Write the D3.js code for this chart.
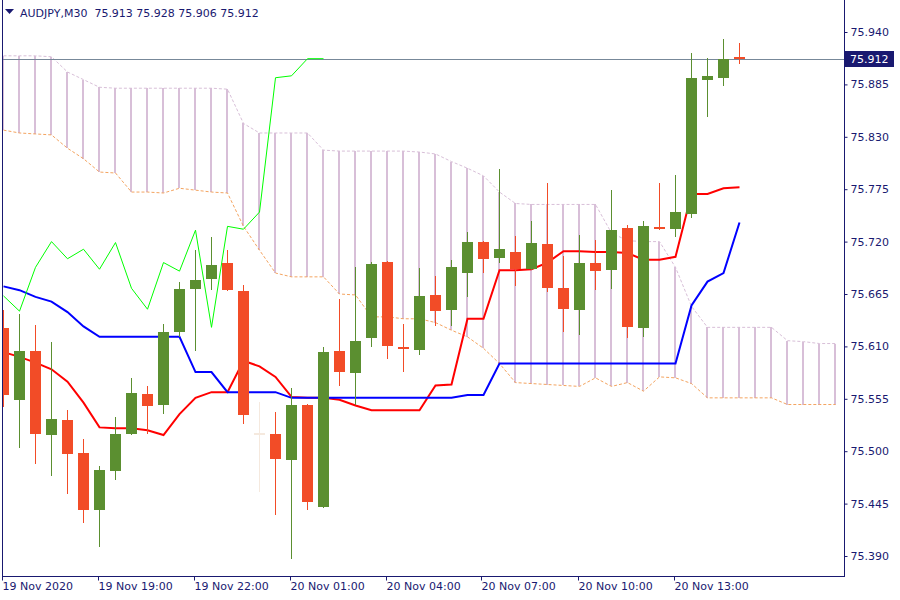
<!DOCTYPE html>
<html><head><meta charset="utf-8">
<script src="https://cdn.jsdelivr.net/npm/d3@7"></script>
<style>
html,body{margin:0;padding:0;background:#fff;}
svg{display:block;font-family:"DejaVu Sans",sans-serif;}
</style></head><body>
<svg id="chart" width="900" height="600"></svg>
<script>
// ---------------- DATA ----------------
const symbol = "AUDJPY,M30";
const headerOHLC = ["75.913", "75.928", "75.906", "75.912"];
const startTime = "2020-11-19T16:00"; // first visible M30 bar
const open  = [75.629,75.554,75.605,75.517,75.533,75.498,75.438,75.479,75.518,75.560,75.548,75.625,75.670,75.681,75.698,75.668,75.518,75.518,75.491,75.548,75.441,75.605,75.582,75.619,75.699,75.609,75.606,75.664,75.648,75.687,75.720,75.703,75.709,75.691,75.718,75.671,75.648,75.698,75.690,75.734,75.629,75.735,75.733,75.749,75.890,75.892,75.913];
const high  = [75.648,75.644,75.632,75.615,75.543,75.513,75.484,75.536,75.577,75.568,75.634,75.678,75.711,75.725,75.711,75.674,75.552,75.541,75.566,75.550,75.609,75.660,75.693,75.699,75.700,75.634,75.692,75.684,75.701,75.730,75.721,75.796,75.726,75.742,75.782,75.705,75.727,75.722,75.774,75.737,75.742,75.782,75.790,75.918,75.913,75.933,75.928];
const low   = [75.546,75.503,75.487,75.474,75.455,75.425,75.399,75.470,75.517,75.518,75.539,75.620,75.605,75.669,75.668,75.529,75.457,75.433,75.387,75.438,75.440,75.568,75.548,75.609,75.597,75.583,75.601,75.631,75.631,75.662,75.687,75.698,75.673,75.690,75.667,75.625,75.622,75.669,75.670,75.619,75.620,75.732,75.725,75.745,75.851,75.883,75.906];
const close = [75.559,75.605,75.518,75.534,75.497,75.438,75.480,75.518,75.561,75.547,75.625,75.670,75.680,75.695,75.669,75.538,75.518,75.492,75.548,75.447,75.604,75.583,75.616,75.697,75.610,75.607,75.663,75.647,75.693,75.720,75.702,75.712,75.691,75.719,75.671,75.649,75.698,75.689,75.732,75.630,75.736,75.733,75.751,75.892,75.894,75.912,75.912];
const tenkan = [75.604,75.599,75.593,75.586,75.573,75.551,75.525,75.524,75.524,75.522,75.517,75.539,75.556,75.562,75.562,75.595,75.589,75.578,75.557,75.556,75.556,75.554,75.548,75.543,75.543,75.543,75.543,75.569,75.570,75.639,75.639,75.690,75.690,75.691,75.698,75.710,75.710,75.709,75.709,75.708,75.701,75.701,75.704,75.770,75.770,75.776,75.777];
const kijun  = [75.673,75.669,75.662,75.657,75.646,75.631,75.620,75.620,75.620,75.620,75.620,75.620,75.583,75.583,75.562,75.562,75.562,75.562,75.556,75.556,75.556,75.556,75.556,75.556,75.556,75.556,75.556,75.556,75.556,75.559,75.559,75.592,75.592,75.592,75.592,75.592,75.592,75.592,75.592,75.592,75.592,75.592,75.592,75.653,75.678,75.687,75.740];
const senkouA = [75.837,75.834,75.833,75.832,75.818,75.807,75.793,75.792,75.772,75.772,75.771,75.776,75.774,75.772,75.771,75.736,75.711,75.687,75.683,75.683,75.683,75.665,75.664,75.641,75.641,75.639,75.639,75.635,75.627,75.620,75.608,75.592,75.572,75.571,75.570,75.569,75.568,75.577,75.568,75.572,75.563,75.578,75.577,75.571,75.556,75.556,75.556,75.556,75.556,75.549,75.549,75.549,75.549];
const senkouB = [75.915,75.915,75.915,75.914,75.898,75.890,75.882,75.881,75.881,75.881,75.881,75.881,75.881,75.881,75.880,75.844,75.834,75.834,75.834,75.834,75.816,75.815,75.815,75.815,75.815,75.815,75.814,75.812,75.804,75.797,75.789,75.772,75.760,75.759,75.759,75.759,75.759,75.759,75.729,75.721,75.720,75.720,75.693,75.652,75.630,75.630,75.630,75.630,75.630,75.616,75.615,75.613,75.613];
const chikouShift = 26;
const bidPrice = 75.912;
const priceTicks = [75.390,75.445,75.500,75.555,75.610,75.665,75.720,75.775,75.830,75.885,75.940];
const timeTickBars = [0,6,12,18,24,30,36,42];
const timeTickLabels = ["19 Nov 2020","19 Nov 19:00","19 Nov 22:00","20 Nov 01:00","20 Nov 04:00","20 Nov 07:00","20 Nov 10:00","20 Nov 13:00"];

// ---------------- LAYOUT ----------------
const W = 900, H = 600;
const plotL = 2, plotR = 844, plotB = 576;
const barStep = 16, bodyW = 11;
const navy = "#191970";
const bullC = "#5b8f30", bearC = "#f24c27", dojiC = "#f5e9de";

const svg = d3.select("#chart");
const nBars = senkouA.length;
const x = d3.scaleLinear().domain([0, nBars - 1]).range([3.5, 3.5 + barStep * (nBars - 1)]);
const y = d3.scaleLinear().domain([75.390, 75.940]).range([556, 32]);

svg.append("defs").append("clipPath").attr("id", "plot")
  .append("rect").attr("x", plotL + 1).attr("y", 0).attr("width", plotR - plotL - 1).attr("height", plotB);

const g = svg.append("g").attr("clip-path", "url(#plot)");

// Cloud hatch
g.append("g").selectAll("line").data(d3.range(nBars)).join("line")
  .attr("x1", i => x(i) - 0.5).attr("x2", i => x(i) - 0.5)
  .attr("y1", i => y(senkouA[i])).attr("y2", i => y(senkouB[i]))
  .attr("stroke", "#d8bfd8").attr("stroke-width", 2).attr("shape-rendering", "crispEdges");

const line = d3.line().x((d, i) => x(i)).y(d => y(d));
g.append("path").datum(senkouB).attr("d", line).attr("fill", "none")
  .attr("stroke", "#d8bfd8").attr("stroke-width", 1).attr("stroke-dasharray", "3,2");
g.append("path").datum(senkouA).attr("d", line).attr("fill", "none")
  .attr("stroke", "#f4a460").attr("stroke-width", 1).attr("stroke-dasharray", "3,2");

// Bid line
g.append("line").attr("x1", plotL).attr("x2", plotR)
  .attr("y1", Math.round(y(bidPrice)) + 0.5).attr("y2", Math.round(y(bidPrice)) + 0.5)
  .attr("stroke", "#778899").attr("stroke-width", 1);

// Tenkan / Kijun
g.append("path").datum(tenkan).attr("d", line).attr("fill", "none")
  .attr("stroke", "#ff0000").attr("stroke-width", 2);
g.append("path").datum(kijun).attr("d", line).attr("fill", "none")
  .attr("stroke", "#0000ff").attr("stroke-width", 2);

// Chikou: closes shifted back
const chikou = close.slice(chikouShift);
g.append("path").datum(chikou).attr("d", line).attr("fill", "none")
  .attr("stroke", "#00ff00").attr("stroke-width", 1);

// Candles
const bars = d3.range(close.length);
const colorOf = i => open[i] === close[i] ? dojiC : (close[i] > open[i] ? bullC : bearC);
const cg = g.append("g");
cg.selectAll("line").data(bars).join("line")
  .attr("x1", i => x(i)).attr("x2", i => x(i))
  .attr("y1", i => y(high[i])).attr("y2", i => y(low[i]))
  .attr("stroke", colorOf).attr("stroke-width", 1).attr("shape-rendering", "crispEdges");
cg.selectAll("rect").data(bars).join("rect")
  .attr("x", i => x(i) - bodyW / 2).attr("width", bodyW)
  .attr("y", i => {
    const t = Math.min(y(open[i]), y(close[i]));
    const h = Math.abs(y(open[i]) - y(close[i]));
    return h < 2 ? (y(open[i]) + y(close[i])) / 2 - 1 : t;
  })
  .attr("height", i => Math.max(2, Math.abs(y(open[i]) - y(close[i]))))
  .attr("fill", colorOf).attr("shape-rendering", "crispEdges");

// Frame
svg.append("path")
  .attr("d", `M${plotL + 0.5},0V${plotB + 0.5}H${plotR + 0.5}V0`)
  .attr("fill", "none").attr("stroke", navy).attr("stroke-width", 1).attr("shape-rendering", "crispEdges");

// Price axis
const ya = svg.append("g").attr("transform", `translate(${plotR + 0.5},0)`)
  .call(d3.axisRight(y).tickValues(priceTicks).tickFormat(d3.format(".3f")).tickSize(3).tickPadding(3));
ya.select(".domain").remove();
ya.selectAll("line").attr("stroke", navy);
ya.selectAll("text").attr("fill", navy).attr("font-size", 11).attr("font-family", "DejaVu Sans");

// Time axis
const xa = svg.append("g").attr("transform", `translate(0,${plotB + 0.5})`)
  .call(d3.axisBottom(x).tickValues(timeTickBars).tickFormat((d, i) => timeTickLabels[i]).tickSize(4).tickPadding(2));
xa.select(".domain").remove();
xa.selectAll(".tick").attr("transform", d => `translate(${Math.round(x(d)) - 1.5},0)`);
xa.selectAll("line").attr("stroke", navy);
xa.selectAll("text").attr("fill", navy).attr("font-size", 11).attr("text-anchor", "start")
  .attr("x", 0).attr("font-family", "DejaVu Sans");

// Bid label
const by = y(bidPrice);
svg.append("rect").attr("x", plotR + 1).attr("y", Math.round(by) - 8).attr("width", 49).attr("height", 16).attr("fill", navy);
svg.append("text").attr("x", plotR + 6).attr("y", by).attr("dy", "0.35em")
  .attr("fill", "#fff").attr("font-size", 11).text(bidPrice.toFixed(3));

// Header
svg.append("path").attr("d", "M5,9H14L9.5,14Z").attr("fill", navy);
svg.append("text").attr("x", 20).attr("y", 17).attr("fill", navy).attr("font-size", 11)
  .attr("xml:space", "preserve").style("white-space", "pre")
  .text(symbol + "  " + headerOHLC.join(" "));
</script>
</body></html>
